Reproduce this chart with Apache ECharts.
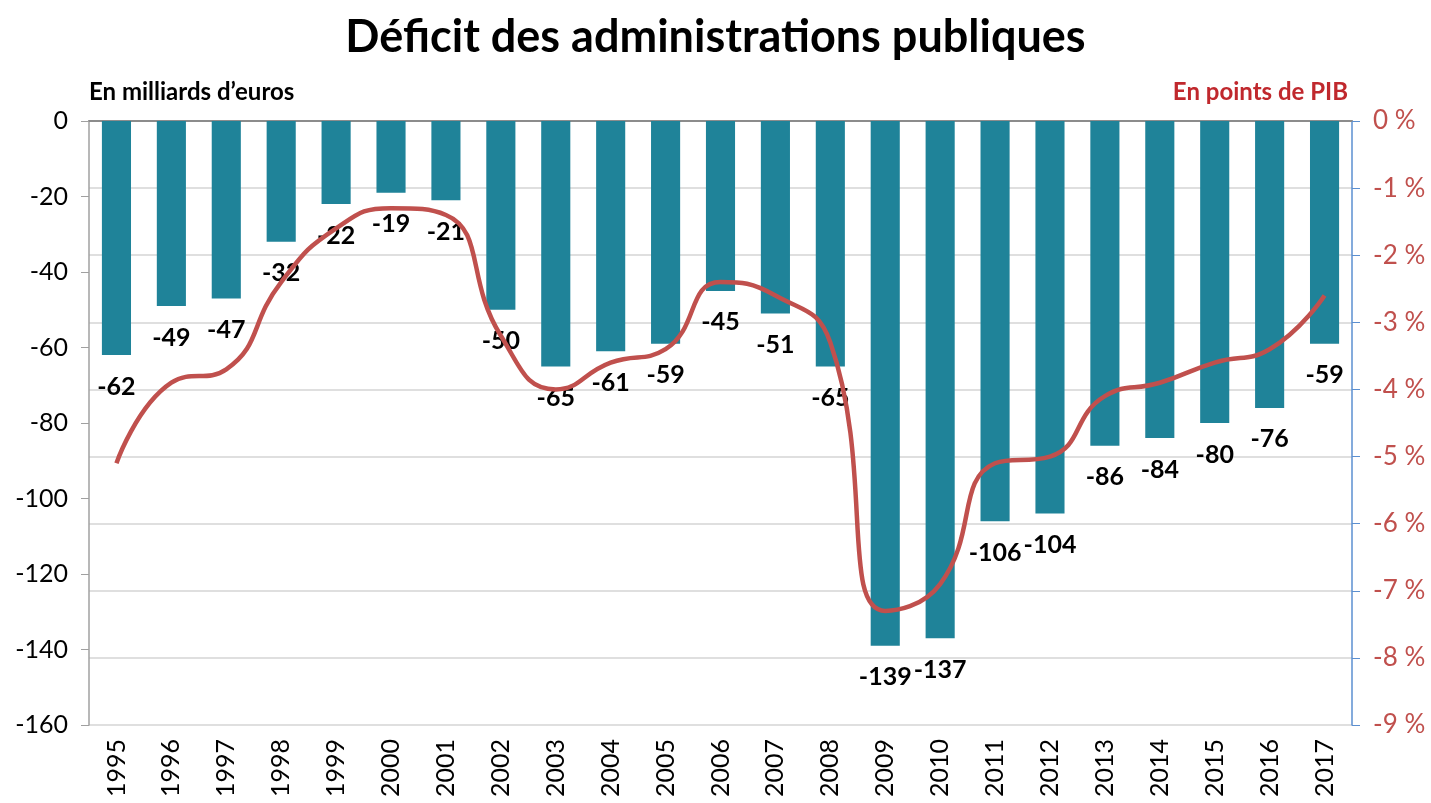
<!DOCTYPE html>
<html>
<head>
<meta charset="utf-8">
<title>Déficit des administrations publiques</title>
<script src="https://cdn.jsdelivr.net/npm/echarts@6/dist/echarts.min.js"></script>
<style>
  html, body { margin: 0; padding: 0; background: #fff; }
  #chart { width: 1431px; height: 803px; }
</style>
</head>
<body>
<div id="chart"></div>
<script>
// years on the category axis
const years = ['1995', '1996', '1997', '1998', '1999', '2000', '2001', '2002', '2003', '2004', '2005', '2006',
  '2007', '2008', '2009', '2010', '2011', '2012', '2013', '2014', '2015', '2016', '2017']
// deficit, billions of euros (bars, left axis)
const deficitEuros = [-62, -49, -47, -32, -22, -19, -21, -50, -65, -61, -59, -45,
  -51, -65, -139, -137, -106, -104, -86, -84, -80, -76, -59]
// deficit, points of GDP (line, right axis)
const deficitPib = [-5.1, -3.9, -3.7, -2.4, -1.6, -1.3, -1.4, -3.2, -4.0, -3.6, -3.4, -2.4,
  -2.6, -3.3, -7.3, -6.9, -5.1, -5.0, -4.1, -3.9, -3.6, -3.4, -2.6]

const FONT = 'Lato, "Open Sans", sans-serif'
const BAR_COLOR = '#1f8399'
const LINE_COLOR = '#c0504d'

const myChart = echarts.init(document.getElementById('chart'))

const option = {
  backgroundColor: '#fff',
  animation: false,
  textStyle: { fontFamily: FONT },
  title: {
    text: 'Déficit des administrations publiques',
    left: 'center',
    top: 10,
    textStyle: { fontFamily: FONT, fontSize: 45, fontWeight: 'bold', color: '#000' }
  },
  grid: { left: 89, right: 79, top: 121, bottom: 78 },
  xAxis: [
    {
      type: 'category',
      data: years,
      position: 'bottom',
      axisLine: { show: false },
      axisTick: { show: false },
      axisLabel: { rotate: 90, margin: 14, fontSize: 25, color: '#000', fontFamily: FONT }
    },
    {
      type: 'category',
      data: years,
      position: 'top',
      axisLine: { onZero: false, lineStyle: { color: '#8c8c8c', width: 2 } },
      axisTick: { inside: true, length: 7, lineStyle: { color: '#8c8c8c', width: 1.5 } },
      axisLabel: { show: false }
    }
  ],
  yAxis: [
    {
      type: 'value',
      min: -160,
      max: 0,
      interval: 20,
      name: 'En milliards d’euros',
      nameLocation: 'end',
      nameGap: 29,
      nameTextStyle: { align: 'left', verticalAlign: 'middle', fontSize: 24, fontWeight: 'bold', color: '#000', fontFamily: FONT },
      axisLine: { show: true, lineStyle: { color: '#a0a0a0', width: 1.5 } },
      axisTick: { show: true, length: 8, lineStyle: { color: '#a0a0a0' } },
      axisLabel: { margin: 21, fontSize: 25, color: '#000', fontFamily: FONT },
      splitLine: { show: false }
    },
    {
      type: 'value',
      min: -9,
      max: 0,
      interval: 1,
      position: 'right',
      name: 'En points de PIB',
      nameLocation: 'end',
      nameGap: 29,
      nameTextStyle: { align: 'right', verticalAlign: 'middle', padding: [0, 4, 0, 0], fontSize: 24, fontWeight: 'bold', color: '#c0282d', fontFamily: FONT },
      axisLine: { show: true, lineStyle: { color: '#5b8fd0', width: 1.5 } },
      axisTick: { show: true, length: 8, lineStyle: { color: '#5b8fd0' } },
      axisLabel: { margin: 21, fontSize: 26, color: LINE_COLOR, fontFamily: FONT, formatter: '{value} %' },
      splitLine: { show: true, lineStyle: { color: '#d4d4d4', width: 1.5 } }
    }
  ],
  series: [
    {
      name: 'Milliards d’euros',
      type: 'bar',
      xAxisIndex: 0,
      yAxisIndex: 0,
      data: deficitEuros,
      barWidth: '53%',
      itemStyle: { color: BAR_COLOR },
      label: {
        show: true,
        position: 'bottom',
        distance: 19,
        fontSize: 25,
        fontWeight: 'bold',
        color: '#000',
        fontFamily: FONT
      },
      z: 2
    },
    {
      name: 'Points de PIB',
      type: 'line',
      xAxisIndex: 0,
      yAxisIndex: 1,
      data: deficitPib,
      smooth: 0.5,
      symbol: 'none',
      lineStyle: { color: LINE_COLOR, width: 4.5 },
      z: 3
    }
  ]
}

myChart.setOption(option)
window.onresize = myChart.resize
</script>
</body>
</html>
